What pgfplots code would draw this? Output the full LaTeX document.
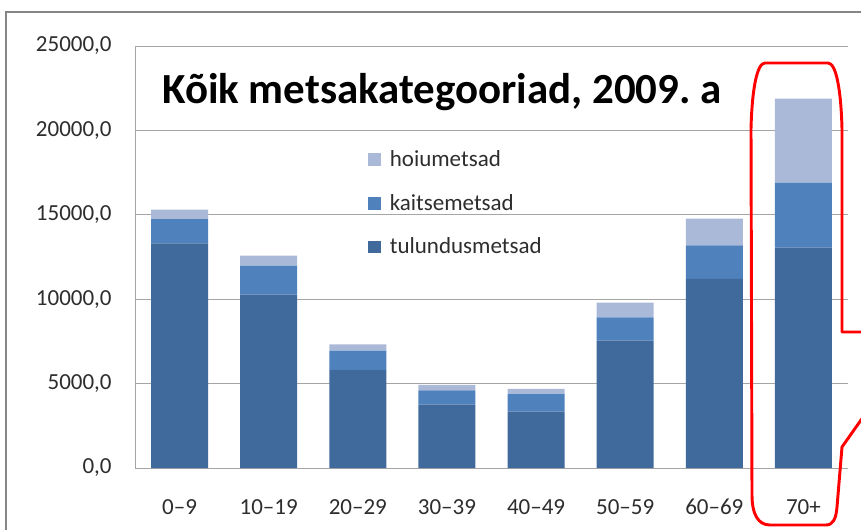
\documentclass[border=0pt]{standalone}
\usepackage{fontspec}
\setmainfont{Carlito}
\usepackage{pgfplots}
\pgfplotsset{compat=1.18}
\definecolor{hoiu}{RGB}{170,185,215}
\definecolor{kaitse}{RGB}{79,129,189}
\definecolor{tulu}{RGB}{64,106,156}
\definecolor{gridc}{RGB}{165,165,165}
\definecolor{framec}{RGB}{134,134,134}
\definecolor{lab}{RGB}{45,45,45}
\begin{document}
\begin{tikzpicture}[x=0.75pt,y=0.75pt]
\path[use as bounding box] (0,0) rectangle (861,529);
\clip (0,0) rectangle (861,529);
\draw[color=framec, line width=1pt] (6,-5) -- (6,517) -- (870,517);
\begin{axis}[
  at={(101.25pt,45.75pt)}, anchor=south west,
  scale only axis, width=534.75pt, height=316.5pt,
  ybar stacked, bar width=0.64,
  xmin=-0.5, xmax=7.5, ymin=0, ymax=25000,
  xtick={0,1,2,3,4,5,6,7},
  xticklabels={0--9,10--19,20--29,30--39,40--49,50--59,60--69,70+},
  ytick={0,5000,10000,15000,20000,25000},
  ymajorgrids, grid style={color=gridc, line width=0.75pt},
  axis x line*=bottom, axis y line*=left,
  axis line style={color=gridc, line width=0.75pt, -},
  major tick length=0pt,
  tick label style={font=\fontsize{17.25}{20}\selectfont, text=lab},
  yticklabel style={xshift=-14pt},
  xticklabel style={yshift=-20pt},
  scaled y ticks=false,
  /pgf/number format/fixed, /pgf/number format/fixed zerofill,
  /pgf/number format/precision=1, /pgf/number format/use comma,
  /pgf/number format/1000 sep={}, /pgf/number format/assume math mode=true,
  legend style={at={(0.321,0.765)}, anchor=north west, draw=none, fill=none,
    font=\fontsize{17.25}{20}\selectfont, text=lab, row sep=15.2pt,
    /tikz/every odd column/.append style={column sep=4.5pt}},
  legend cell align=left, reverse legend,
  legend image code/.code={\fill[#1,draw=none,/tikz/.cd] (0pt,-4.7pt) rectangle (9.75pt,4.7pt);},
]
\addplot[fill=tulu, draw=none] coordinates {(0,13300) (1,10270) (2,5810) (3,3750) (4,3340) (5,7540) (6,11200) (7,13050)};
\addplot[fill=kaitse, draw=none] coordinates {(0,1450) (1,1720) (2,1140) (3,850) (4,1030) (5,1385) (6,1990) (7,3850)};
\addplot[fill=hoiu, draw=none] coordinates {(0,550) (1,590) (2,380) (3,320) (4,315) (5,868) (6,1580) (7,4980)};
\legend{tulundusmetsad,kaitsemetsad,hoiumetsad}
\end{axis}
\node[anchor=base west, inner sep=0pt, font=\bfseries\fontsize{32.2}{36}\selectfont] at (162,425) {Kõik metsakategooriad, 2009.~a};
\draw[red, line width=2.2pt, line join=round]
  (765,466) -- (828,466) .. controls (836,466) and (841,440) .. (842,400)
  -- (842,197) -- (880,197) -- (880,136) -- (842,82) -- (837,22)
  .. controls (836,10) and (833,4) .. (826,4) -- (770,4)
  .. controls (758,4) and (752,15) .. (752,34) -- (751,400)
  .. controls (752,440) and (757,466) .. (765,466) -- cycle;
\end{tikzpicture}
\end{document}
